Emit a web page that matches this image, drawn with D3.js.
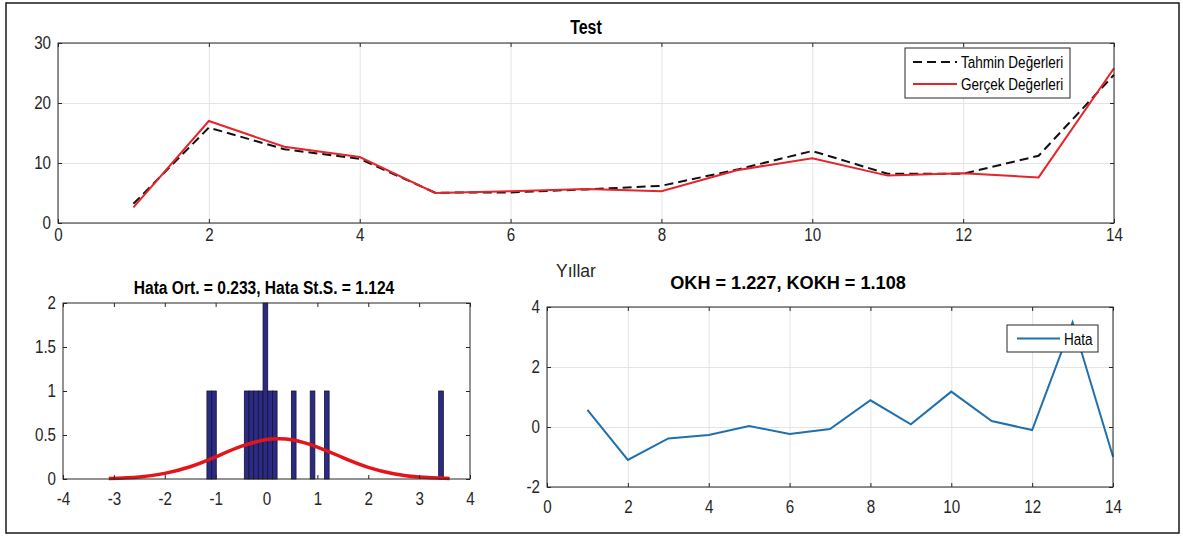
<!DOCTYPE html>
<html lang="tr">
<head>
<meta charset="UTF-8">
<title>Test</title>
<script src="https://d3js.org/d3.v7.min.js"></script>
<style>
  body { margin: 0; background: #fff; }
  svg text { font-family: "Liberation Sans", Arial, sans-serif; }
  .tick text { fill: #262626; }
</style>
</head>
<body>
<div id="chart"></div>
<script>
// values
const years = [1, 2, 3, 4, 5, 6, 7, 8, 9, 10, 11, 12, 13, 14];
const tahmin = [3.2, 15.9, 12.3, 10.7, 5.05, 5.1, 5.6, 6.2, 8.9, 12.0, 8.2, 8.2, 11.2, 24.7];
const gercek = [2.6, 17.0, 12.7, 11.0, 5.0, 5.3, 5.67, 5.3, 8.8, 10.8, 7.9, 8.3, 7.6, 25.8];
const hata = [0.57, -1.1, -0.38, -0.27, 0.03, -0.23, -0.07, 0.89, 0.09, 1.18, 0.2, -0.1, 3.49, -0.99];

// histogram of the errors
const binWidth = 0.092;
const binCenters = [-1.125, -1.033, -0.39, -0.298, -0.206, -0.114, -0.022, 0.07, 0.162, 0.535, 0.905, 1.185, 3.43];
const binCounts = [1, 1, 1, 1, 1, 1, 2, 1, 1, 1, 1, 1, 1];

// fitted normal curve (read at points)
const fitX = [-3.1, -2.5, -2, -1.5, -1, -0.5, 0, 0.233, 0.5, 1, 1.5, 2, 2.5, 3, 3.6];
const fitY = [0.006, 0.024, 0.064, 0.139, 0.251, 0.37, 0.448, 0.458, 0.445, 0.363, 0.243, 0.133, 0.06, 0.022, 0.005];

// ticks
const topXTicks = [0, 2, 4, 6, 8, 10, 12, 14];
const topYTicks = [0, 10, 20, 30];
const histXTicks = [-4, -3, -2, -1, 0, 1, 2, 3, 4];
const histYTicks = [0, 0.5, 1, 1.5, 2];
const errXTicks = [0, 2, 4, 6, 8, 10, 12, 14];
const errYTicks = [-2, 0, 2, 4];

const squeeze = 0.82; // reference text is narrow
const plain = d => String(d); // hyphen minus like matlab

const svg = d3.select("#chart").append("svg")
    .attr("width", 1183)
    .attr("height", 537);

// outer frame
svg.append("rect")
    .attr("x", 6).attr("y", 3)
    .attr("width", 1173).attr("height", 530)
    .attr("fill", "none")
    .attr("stroke", "#1a1a1a")
    .attr("stroke-width", 1.5);

function label(x, y, str, size, opts = {}) {
    const sx = opts.sx || squeeze;
    return svg.append("text")
        .attr("transform", "translate(" + x + "," + y + ") scale(" + sx + ",1)")
        .attr("text-anchor", opts.anchor || "start")
        .attr("fill", opts.color || "#000")
        .style("font-size", size + "px")
        .style("font-weight", opts.bold ? "bold" : "normal")
        .text(str);
}

// matlab-like axes: box, inner ticks on all sides, optional grid
function panel(box, xDom, yDom, xTicks, yTicks, opts) {
    const x = d3.scaleLinear().domain(xDom).range([box.left, box.right]);
    const y = d3.scaleLinear().domain(yDom).range([box.bottom, box.top]);
    const w = box.right - box.left, h = box.bottom - box.top;
    const g = svg.append("g");

    if (opts.grid) {
        g.append("g").attr("transform", "translate(0," + box.bottom + ")")
            .call(d3.axisBottom(x).tickValues(xTicks).tickSize(-h).tickFormat(""))
            .call(a => a.select(".domain").remove())
            .call(a => a.selectAll("line").attr("stroke", "#e4e4e4"));
        g.append("g").attr("transform", "translate(" + box.left + ",0)")
            .call(d3.axisLeft(y).tickValues(yTicks).tickSize(-w).tickFormat(""))
            .call(a => a.select(".domain").remove())
            .call(a => a.selectAll("line").attr("stroke", "#e4e4e4"));
    }

    const marks = svg.append("g").attr("class", "frame");
    marks.append("g").attr("transform", "translate(0," + box.bottom + ")")
        .call(d3.axisBottom(x).tickValues(xTicks).tickSize(-4).tickPadding(opts.xPad).tickFormat(plain))
        .call(a => a.selectAll("text").style("font-size", opts.fs + "px")
            .attr("transform", "scale(" + squeeze + ",1)"));
    marks.append("g").attr("transform", "translate(" + box.left + ",0)")
        .call(d3.axisLeft(y).tickValues(yTicks).tickSize(-4).tickPadding(8.5).tickFormat(plain))
        .call(a => a.selectAll("text").style("font-size", opts.fs + "px")
            .attr("transform", "scale(" + squeeze + ",1)"));
    marks.append("g").attr("transform", "translate(0," + box.top + ")")
        .call(d3.axisTop(x).tickValues(xTicks).tickSize(-4).tickFormat(""));
    marks.append("g").attr("transform", "translate(" + box.right + ",0)")
        .call(d3.axisRight(y).tickValues(yTicks).tickSize(-4).tickFormat(""));
    marks.selectAll(".domain").remove();
    marks.selectAll("line").attr("stroke", "#262626");
    marks.append("rect")
        .attr("x", box.left).attr("y", box.top)
        .attr("width", w).attr("height", h)
        .attr("fill", "none").attr("stroke", "#262626");

    return {g, x, y, marks};
}

// ---------- top: Test ----------
const testPanel = panel({left: 58, right: 1114, top: 43, bottom: 223},
    [0, 14], [0, 30], topXTicks, topYTicks, {grid: true, xPad: 5, fs: 18.5});

testPanel.g.append("path")
    .datum(years.map((d, i) => [d, tahmin[i]]))
    .attr("fill", "none")
    .attr("stroke", "#111")
    .attr("stroke-width", 2)
    .attr("stroke-dasharray", "9,5")
    .attr("d", d3.line().x(d => testPanel.x(d[0])).y(d => testPanel.y(d[1])));

testPanel.g.append("path")
    .datum(years.map((d, i) => [d, gercek[i]]))
    .attr("fill", "none")
    .attr("stroke", "#e4252b")
    .attr("stroke-width", 2)
    .attr("d", d3.line().x(d => testPanel.x(d[0])).y(d => testPanel.y(d[1])));

label(586, 34, "Test", 19.5, {anchor: "middle", bold: true});
label(576, 277, "Yıllar", 17.5, {anchor: "middle", color: "#262626", sx: 1});

// legend
const leg = svg.append("g");
leg.append("rect")
    .attr("x", 905).attr("y", 48).attr("width", 165).attr("height", 50)
    .attr("fill", "#fff").attr("stroke", "#262626");
leg.append("line").attr("x1", 913).attr("x2", 957).attr("y1", 62).attr("y2", 62)
    .attr("stroke", "#111").attr("stroke-width", 2).attr("stroke-dasharray", "9,5");
leg.append("line").attr("x1", 913).attr("x2", 957).attr("y1", 84).attr("y2", 84)
    .attr("stroke", "#e4252b").attr("stroke-width", 2);
label(961, 68, "Tahmin Değerleri", 16.5);
label(961, 90, "Gerçek Değerleri", 16.5);

// ---------- bottom left: histogram ----------
const hist = panel({left: 63, right: 470, top: 303, bottom: 479},
    [-4, 4], [0, 2], histXTicks, histYTicks, {grid: false, xPad: 13, fs: 18.5});

hist.g.selectAll(".bar")
    .data(binCenters.map((c, i) => ({c, n: binCounts[i]})))
    .enter().append("rect")
    .attr("class", "bar")
    .attr("x", d => hist.x(d.c - binWidth / 2))
    .attr("width", d => hist.x(d.c + binWidth / 2) - hist.x(d.c - binWidth / 2))
    .attr("y", d => hist.y(d.n))
    .attr("height", d => hist.y(0) - hist.y(d.n))
    .attr("fill", "#2b2b85")
    .attr("stroke", "#141430")
    .attr("stroke-width", 0.8);

hist.g.append("path")
    .datum(fitX.map((d, i) => [d, fitY[i]]))
    .attr("fill", "none")
    .attr("stroke", "#e3151b")
    .attr("stroke-width", 3.5)
    .attr("d", d3.line().curve(d3.curveNatural).x(d => hist.x(d[0])).y(d => hist.y(d[1])));

label(264, 294, "Hata Ort. = 0.233, Hata St.S. = 1.124", 19, {anchor: "middle", bold: true});

// ---------- bottom right: error ----------
const err = panel({left: 547, right: 1113, top: 307, bottom: 487},
    [0, 14], [-2, 4], errXTicks, errYTicks, {grid: true, xPad: 13, fs: 18.5});

err.g.append("path")
    .datum(years.map((d, i) => [d, hata[i]]))
    .attr("fill", "none")
    .attr("stroke", "#1f70ad")
    .attr("stroke-width", 2)
    .attr("d", d3.line().x(d => err.x(d[0])).y(d => err.y(d[1])));

label(788, 289, "OKH = 1.227, KOKH = 1.108", 18.5, {anchor: "middle", bold: true, sx: 0.98});

const leg2 = svg.append("g");
leg2.append("rect")
    .attr("x", 1007).attr("y", 325).attr("width", 91).attr("height", 27)
    .attr("fill", "#fff").attr("stroke", "#262626");
leg2.append("line").attr("x1", 1017).attr("x2", 1060).attr("y1", 338.5).attr("y2", 338.5)
    .attr("stroke", "#1f70ad").attr("stroke-width", 2);
label(1064, 344.5, "Hata", 16.5);
</script>
</body>
</html>
